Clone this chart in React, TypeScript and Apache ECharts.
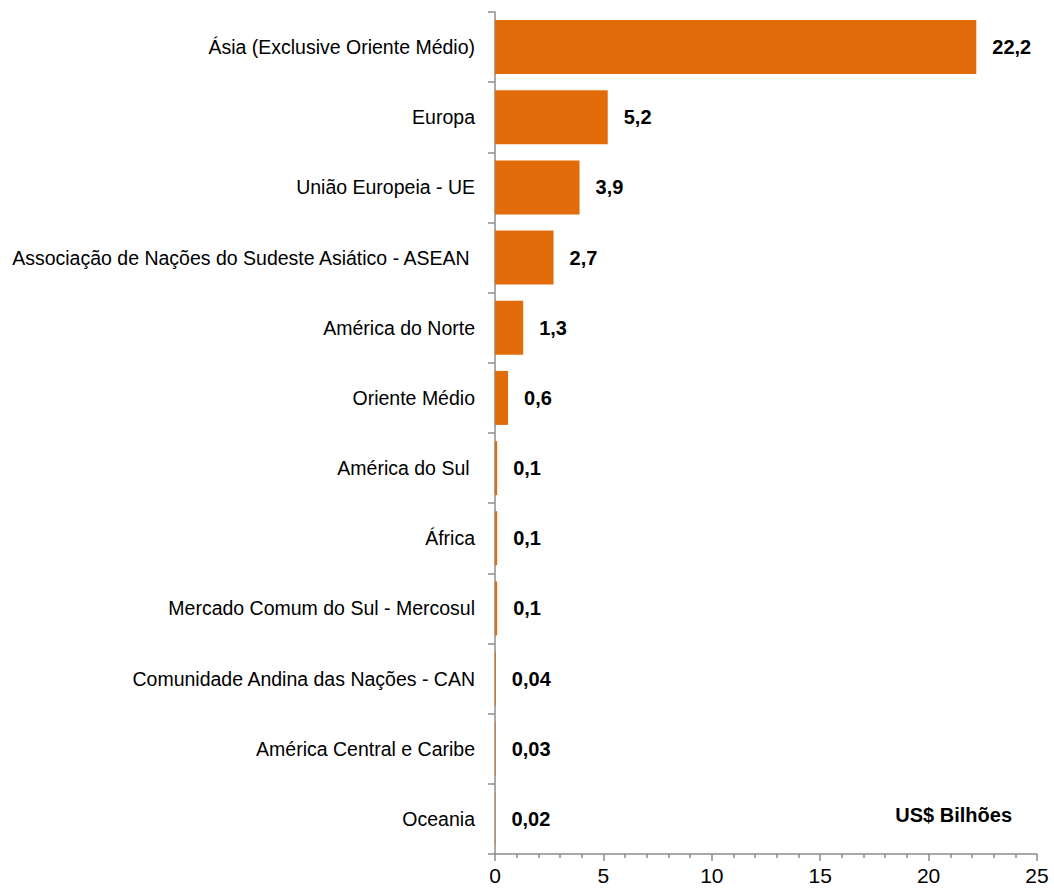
import React, { useEffect, useRef } from "react";
import * as echarts from "echarts";

const categories = [
  "Ásia (Exclusive Oriente Médio)",
  "Europa",
  "União Europeia - UE",
  "Associação de Nações do Sudeste Asiático - ASEAN ",
  "América do Norte",
  "Oriente Médio",
  "América do Sul ",
  "África",
  "Mercado Comum do Sul - Mercosul",
  "Comunidade Andina das Nações - CAN",
  "América Central e Caribe",
  "Oceania",
];
const values = [22.2, 5.2, 3.9, 2.7, 1.3, 0.6, 0.1, 0.1, 0.1, 0.04, 0.03, 0.02];
const xTicks = { min: 0, max: 25, interval: 5 };
const unitLabel = "US$ Bilhões";

const FONT = '"Liberation Sans", Arial, Helvetica, sans-serif';

export default function App() {
  const ref = useRef<HTMLDivElement>(null);
  useEffect(() => {
    if (!ref.current) return;
    const chart = echarts.init(ref.current, null, { renderer: "svg" });
    chart.setOption({
      animation: false,
      backgroundColor: "#ffffff",
      grid: {
        left: 495,
        right: 17,
        top: 12,
        bottom: 36,
        containLabel: false,
        outerBoundsMode: "none",
      },
      xAxis: {
        type: "value",
        min: xTicks.min,
        max: xTicks.max,
        interval: xTicks.interval,
        axisLine: { show: true, lineStyle: { color: "#8c8c8c", width: 1.5 } },
        axisTick: { show: true, length: 7, lineStyle: { color: "#8c8c8c", width: 1.5 } },
        minorTick: { show: true, splitNumber: 5, length: 4, lineStyle: { color: "#8c8c8c", width: 1.5 } },
        splitLine: { show: false },
        axisLabel: { color: "#000", fontSize: 21, fontFamily: FONT, margin: 11 },
      },
      yAxis: {
        type: "category",
        data: categories,
        inverse: true,
        axisLine: { show: true, lineStyle: { color: "#8c8c8c", width: 1.5 } },
        axisTick: { show: true, length: 7, alignWithLabel: false, lineStyle: { color: "#8c8c8c", width: 1.5 } },
        axisLabel: { color: "#000", fontSize: 19.5, fontFamily: FONT, margin: 20 },
      },
      series: [
        {
          type: "bar",
          data: values,
          barCategoryGap: "23%",
          itemStyle: { color: "#E36C0A" },
          label: {
            show: true,
            position: "right",
            distance: 16,
            color: "#000",
            fontSize: 20,
            fontWeight: "bold",
            fontFamily: FONT,
            formatter: (p: any) => String(p.value).replace(".", ","),
          },
        },
      ],
      graphic: [
        {
          type: "text",
          right: 42,
          top: 805,
          style: {
            text: unitLabel,
            fill: "#000",
            fontSize: 20,
            fontWeight: "bold",
            fontFamily: FONT,
          },
        },
      ],
    });
    return () => chart.dispose();
  }, []);
  return (
    <div
      ref={ref}
      style={{ position: "fixed", left: 0, top: 0, width: 1054, height: 890 }}
    />
  );
}
